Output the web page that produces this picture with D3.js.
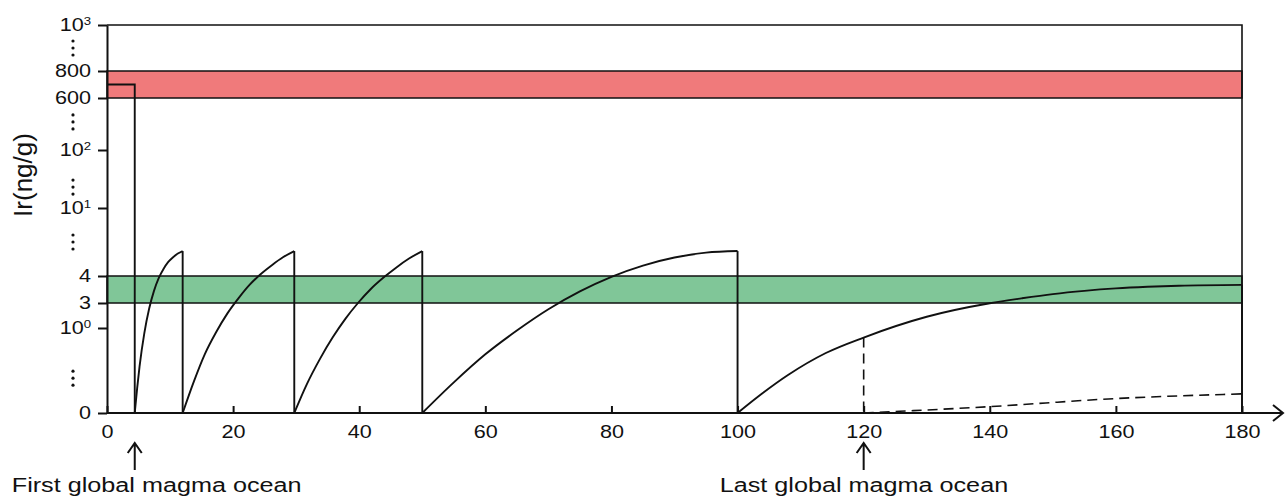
<!DOCTYPE html>
<html>
<head>
<meta charset="utf-8">
<script src="https://cdn.jsdelivr.net/npm/d3@7"></script>
<style>
  html, body { margin: 0; padding: 0; background: #fff; }
  svg { display: block; font-family: "Liberation Sans", Arial, Helvetica, sans-serif; }
</style>
</head>
<body>
<svg id="chart" width="1286" height="496"></svg>
<script>
// time (Myr) ticks
const timeTicks = [0, 20, 40, 60, 80, 100, 120, 140, 160, 180];

// broken Ir axis: tick values and their labels [base, superscript]
const irTicks = [0, 1, 3, 4, 10, 100, 600, 800, 1000];
const irTickLabels = [['0', ''], ['10', '0'], ['3', ''], ['4', ''], ['10', '1'],
  ['10', '2'], ['600', ''], ['800', ''], ['10', '3']];
const axisBreaks = [[0, 1], [4, 10], [10, 100], [100, 600], [800, 1000]];

// shaded ranges (ng/g)
const lowBand = [3, 4];
const highBand = [600, 800];

// initial Ir before first magma ocean
const initialIr = [[0, 700], [4.4, 700], [4.4, 0]];

// Ir build-up between magma oceans [time, Ir]
const recovery1 = [[4.4, 0], [4.78, 0.29], [5.16, 0.545], [5.92, 0.94], [6.68, 2.54], [7.44, 3.44],
  [8.2, 3.92], [8.96, 4.62], [9.72, 5.24], [10.48, 5.66], [11.24, 5.98], [12, 6.2]];
const recovery2 = [[12, 0], [13.8, 0.375], [15.5, 0.69], [17.3, 0.95], [19.1, 2.17], [20.9, 3.19],
  [22.6, 3.67], [24.4, 4.18], [26.2, 4.98], [27.9, 5.65], [29.7, 6.2]];
const recovery3 = [[29.7, 0], [31.7, 0.34], [33.8, 0.64], [35.8, 0.89], [37.8, 1.73], [39.8, 3.0],
  [41.8, 3.51], [43.9, 3.95], [45.9, 4.76], [47.9, 5.54], [50, 6.2]];
const recovery4 = [[50, 0], [55, 0.36], [60, 0.69], [65, 0.97], [70, 2.5], [75, 3.43],
  [80, 3.97], [85, 4.92], [90, 5.63], [95, 6.06], [100, 6.2]];
const recovery5 = [[100, 0], [104, 0.235], [108, 0.447], [114, 0.706], [120, 0.888], [130, 1.9],
  [140, 2.98], [145, 3.17], [150, 3.33], [155, 3.45], [160, 3.54], [165, 3.6], [170, 3.64], [180, 3.67]];
const recoveries = [recovery1, recovery2, recovery3, recovery4, recovery5];

// alternative (dashed) path after last magma ocean
const dashedDropTime = 120;
const dashedIr = [[120, 0], [140, 0.075], [160, 0.17], [180, 0.225]];

const magmaOceans = [
  { t: 4.4, label: 'First global magma ocean' },
  { t: 120, label: 'Last global magma ocean' }
];

const svg = d3.select('#chart');
const ink = '#111';
const textStretch = 1.2; // the original lettering is wide

const x = d3.scaleLinear().domain([0, 180]).range([107, 1242]);
// piecewise axis, one stop per labelled tick
const y = d3.scaleLinear().domain(irTicks).range([413, 328, 303, 276, 208, 150, 98, 71, 25]);

function stretch(sel, sx) {
  sel.each(function () {
    const t = d3.select(this);
    const xv = +t.attr('x') || 0;
    t.attr('x', xv / sx).attr('transform', `scale(${sx},1)`);
  });
}

// bands
const bands = [{ r: highBand, fill: '#f07a7b' }, { r: lowBand, fill: '#80c698' }];
svg.append('g').selectAll('rect').data(bands).enter()
  .append('rect')
  .attr('x', x(0))
  .attr('width', x(180) - x(0))
  .attr('y', d => y(d.r[1]))
  .attr('height', d => y(d.r[0]) - y(d.r[1]))
  .attr('fill', d => d.fill)
  .attr('stroke', ink)
  .attr('stroke-width', 1.5);

// frame top + right
svg.append('path')
  .attr('d', `M${x(0)},${y(1000)}H${x(180)}V${y(0)}`)
  .attr('fill', 'none')
  .attr('stroke', ink)
  .attr('stroke-width', 1.6);

// curves
const line = d3.line().x(d => x(d[0])).y(d => y(d[1]));
const smooth = d3.line().x(d => x(d[0])).y(d => y(d[1])).curve(d3.curveMonotoneX);

const g = svg.append('g').attr('fill', 'none').attr('stroke', ink).attr('stroke-width', 1.9);
g.append('path').attr('d', line(initialIr));
recoveries.forEach(r => {
  g.append('path').attr('d', smooth(r));
  const last = r[r.length - 1];
  g.append('path').attr('d', line([last, [last[0], 0]]));
});

// dashed alternative
const peakAt120 = recovery5.find(d => d[0] === dashedDropTime)[1];
const gd = svg.append('g').attr('fill', 'none').attr('stroke', ink)
  .attr('stroke-width', 1.6).attr('stroke-dasharray', '10,6');
gd.append('path').attr('d', line([[dashedDropTime, peakAt120], [dashedDropTime, 0]]));
gd.append('path').attr('d', smooth(dashedIr));

// y axis
const yAxis = svg.append('g')
  .attr('transform', `translate(${x(0)},0)`)
  .call(d3.axisLeft(y).tickValues(irTicks).tickSize(9).tickSizeOuter(0).tickPadding(7).tickFormat(''));
yAxis.select('.domain').attr('stroke', ink).attr('stroke-width', 2);
yAxis.selectAll('.tick line').attr('stroke', ink).attr('stroke-width', 2);
yAxis.selectAll('.tick text').each(function (d, i) {
  const t = d3.select(this).attr('fill', ink).style('font-size', '18px');
  const lab = irTickLabels[i];
  t.append('tspan').text(lab[0]);
  if (lab[1]) {
    t.append('tspan').text(lab[1]).attr('dy', '-0.6em').style('font-size', '11px');
  }
});
stretch(yAxis.selectAll('.tick text'), textStretch);

// axis break dots
const breakFrac = [0.41, 0.5, 0.36, 0.54, 0.5];
const dots = [];
axisBreaks.forEach((b, i) => {
  const c = y(b[0]) + (y(b[1]) - y(b[0])) * breakFrac[i];
  [-7, 0, 7].forEach(o => dots.push(c + o));
});
svg.append('g').selectAll('circle').data(dots).enter()
  .append('circle')
  .attr('cx', 73)
  .attr('cy', d => d)
  .attr('r', 1.6)
  .attr('fill', ink);

// y title
svg.append('text')
  .attr('transform', 'translate(32,175) rotate(-90)')
  .attr('text-anchor', 'middle')
  .style('font-size', '26px')
  .attr('fill', ink)
  .text('Ir(ng/g)');

// x axis
const xAxis = svg.append('g')
  .attr('transform', `translate(0,${y(0)})`)
  .call(d3.axisBottom(x).tickValues(timeTicks).tickSizeInner(-7).tickSizeOuter(0).tickPadding(12));
xAxis.select('.domain').remove();
xAxis.selectAll('.tick line').attr('stroke', ink).attr('stroke-width', 2);
xAxis.selectAll('.tick text').attr('fill', ink).style('font-size', '18px');
stretch(xAxis.selectAll('.tick text'), textStretch);

svg.append('path')
  .attr('d', `M${x(0)},${y(0)}H1283`)
  .attr('stroke', ink).attr('stroke-width', 2);
svg.append('path')
  .attr('d', `M1273,${y(0) - 8}L1283,${y(0)}L1273,${y(0) + 8}`)
  .attr('fill', 'none').attr('stroke', ink).attr('stroke-width', 2);

// magma ocean markers
const labelShift = [-123, -144];
const ev = svg.append('g').selectAll('g').data(magmaOceans).enter().append('g');
ev.append('path')
  .attr('d', d => `M${x(d.t)},470V443M${x(d.t) - 7},453L${x(d.t)},443L${x(d.t) + 7},453`)
  .attr('fill', 'none')
  .attr('stroke', ink)
  .attr('stroke-width', 2);
ev.append('text')
  .attr('transform', (d, i) => `translate(${x(d.t) + labelShift[i]},492) scale(${textStretch},1)`)
  .style('font-size', '21px')
  .attr('fill', ink)
  .text(d => d.label);
</script>
</body>
</html>
